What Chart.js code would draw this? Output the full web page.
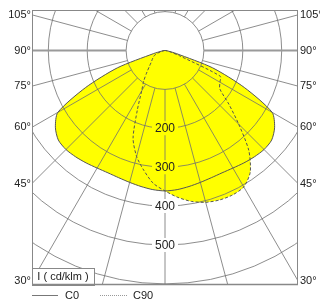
<!DOCTYPE html>
<html>
<head>
<meta charset="utf-8">
<script src="https://cdn.jsdelivr.net/npm/chart.js@4"></script>
<style>
  html, body { margin: 0; padding: 0; background: #fff; }
  canvas { display: block; }
</style>
</head>
<body>
<canvas id="chart" width="320" height="305"></canvas>
<script>
// gamma angles (deg from nadir) and intensities in cd/klm
const gammaAngles = [0, 5, 10, 15, 20, 25, 30, 35, 40, 45, 50, 55, 60, 65, 70, 75, 80, 85, 90];
const c0Values   = [361, 359, 355, 351, 348, 347, 349, 353, 357, 360, 358, 344, 318, 225, 130, 30, 8, 2, 0];
const c90Values  = [361, 379, 394, 404, 409, 410, 405, 382, 335, 268, 214, 172, 163, 157, 40, 15, 6, 2, 0];
const c270Values = [361, 343, 313, 282, 240, 168, 120, 95, 72, 56, 46, 40, 35, 30, 20, 10, 5, 2, 0];

const ringValues = [100, 200, 300, 400, 500, 600];
const ringLabels = [200, 300, 400, 500];
const sideAngles = [105, 90, 75, 60, 45, 30];
const spokeAngles = [0, 15, 30, 45, 60, 75, 105, 120, 135, 150, 165, 180];
const unitLabel = 'I ( cd/klm )';
const legendNames = ['C0', 'C90'];

const FONT = '"Liberation Sans", Arial, sans-serif';
const YELLOW = '#ffff00';

function loop(leftVals, rightVals) {
  const pts = [];
  for (let i = gammaAngles.length - 1; i >= 0; i--) {
    const g = gammaAngles[i] * Math.PI / 180;
    pts.push({ x: -leftVals[i] * Math.sin(g), y: -leftVals[i] * Math.cos(g) });
  }
  for (let i = 1; i < gammaAngles.length; i++) {
    const g = gammaAngles[i] * Math.PI / 180;
    pts.push({ x: rightVals[i] * Math.sin(g), y: -rightVals[i] * Math.cos(g) });
  }
  return pts;
}

const polarGrid = {
  id: 'polarGrid',
  beforeDatasetsDraw(chart) {
    const { ctx, chartArea: a, scales: { x, y } } = chart;
    const cx = x.getPixelForValue(0), cy = y.getPixelForValue(0);
    const px = v => x.getPixelForValue(v) - cx;
    ctx.save();
    ctx.beginPath();
    ctx.rect(a.left, a.top, a.width, a.height);
    ringLabels.forEach(v => {
      ctx.rect(cx - 13, y.getPixelForValue(-v) - 7, 26, 14);
    });
    ctx.clip('evenodd');

    ctx.strokeStyle = '#707070';
    ctx.lineWidth = 0.8;
    ringValues.forEach(v => {
      ctx.beginPath();
      ctx.arc(cx, cy, px(v), 0, Math.PI * 2);
      ctx.stroke();
    });
    const r0 = px(100), r1 = px(900);
    spokeAngles.forEach(g => {
      const t = g * Math.PI / 180;
      const sides = (g === 0 || g === 180) ? [1] : [-1, 1];
      sides.forEach(s => {
        ctx.beginPath();
        ctx.moveTo(cx + s * r0 * Math.sin(t), cy + r0 * Math.cos(t));
        ctx.lineTo(cx + s * r1 * Math.sin(t), cy + r1 * Math.cos(t));
        ctx.stroke();
      });
    });
    ctx.strokeStyle = '#9a9a9a';
    ctx.lineWidth = 2;
    ctx.beginPath();
    ctx.moveTo(a.left, cy); ctx.lineTo(cx - r0, cy);
    ctx.moveTo(cx + r0, cy); ctx.lineTo(a.right, cy);
    ctx.stroke();
    ctx.restore();
  },
  afterDatasetsDraw(chart) {
    const { ctx, chartArea: a, scales: { x, y } } = chart;
    const cx = x.getPixelForValue(0), cy = y.getPixelForValue(0);
    ctx.save();
    ctx.fillStyle = '#222';
    ctx.font = '12px ' + FONT;
    ctx.textAlign = 'center';
    ctx.textBaseline = 'middle';
    ringLabels.forEach(v => ctx.fillText(String(v), cx, y.getPixelForValue(-v) + 0.5));

    // unit box
    ctx.fillStyle = '#fff';
    ctx.fillRect(a.left, a.bottom - 17, 63, 17);
    ctx.strokeStyle = '#888';
    ctx.lineWidth = 1;
    ctx.strokeRect(a.left + 0.5, a.bottom - 16.5, 62, 17);
    ctx.fillStyle = '#222';
    ctx.font = '11px ' + FONT;
    ctx.fillText(unitLabel, a.left + 31, a.bottom - 8);

    // frame
    ctx.strokeStyle = '#888';
    ctx.lineWidth = 1;
    ctx.strokeRect(a.left + 0.5, a.top + 0.5, a.width - 1, a.height - 1);
    ctx.lineWidth = 1.5;
    ctx.beginPath();
    ctx.moveTo(a.left, a.bottom - 0.5); ctx.lineTo(a.right, a.bottom - 0.5);
    ctx.stroke();

    // side angle labels
    const half = cx - a.left;
    sideAngles.forEach(g => {
      const ly = cy + half / Math.tan(g * Math.PI / 180);
      ctx.textAlign = 'right';
      ctx.fillText(g + '°', a.left - 1, ly);
      ctx.textAlign = 'left';
      ctx.fillText(g + '°', a.right + 2, ly);
    });

    // legend
    const ly = a.bottom + 10.5;
    ctx.strokeStyle = '#777';
    ctx.lineWidth = 1;
    ctx.beginPath();
    ctx.moveTo(a.left, ly); ctx.lineTo(a.left + 26, ly);
    ctx.stroke();
    ctx.strokeStyle = '#999';
    ctx.setLineDash([1, 1]);
    ctx.beginPath();
    ctx.moveTo(a.left + 68, ly); ctx.lineTo(a.left + 96, ly);
    ctx.stroke();
    ctx.setLineDash([]);
    ctx.textAlign = 'left';
    ctx.fillText(legendNames[0], a.left + 33, ly);
    ctx.fillText(legendNames[1], a.left + 101, ly);
    ctx.restore();
  }
};

new Chart(document.getElementById('chart'), {
  type: 'scatter',
  data: {
    datasets: [
      {
        label: legendNames[0],
        data: loop(c0Values, c0Values),
        showLine: true,
        fill: 'shape',
        backgroundColor: YELLOW,
        borderColor: '#555',
        borderWidth: 1,
        tension: 0.25,
        pointRadius: 0
      },
      {
        label: legendNames[1],
        data: loop(c270Values, c90Values),
        showLine: true,
        fill: 'shape',
        backgroundColor: YELLOW,
        borderColor: '#555',
        borderWidth: 1,
        borderDash: [3, 2],
        tension: 0.25,
        pointRadius: 0
      }
    ]
  },
  options: {
    responsive: false,
    animation: false,
    layout: { padding: { left: 32, right: 22, top: 10, bottom: 20 } },
    scales: {
      x: { type: 'linear', min: -341.9, max: 341.9, display: false },
      y: { type: 'linear', min: -602.8, max: 104.1, display: false }
    },
    plugins: {
      legend: { display: false },
      tooltip: { enabled: false },
      filler: { drawTime: 'beforeDatasetsDraw' }
    }
  },
  plugins: [polarGrid]
});
</script>
</body>
</html>
